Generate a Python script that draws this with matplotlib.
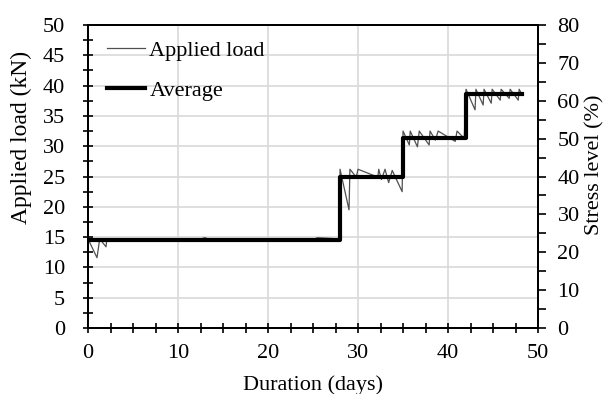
"""
Applied load history with stepwise average and stress level on the right axis.
"""

import matplotlib
matplotlib.use('Agg')
import matplotlib.pyplot as plt
from matplotlib.ticker import MultipleLocator

# applied load record (days, kN)
load_days = [0.0, 1.0, 1.3, 2.0, 2.1, 12.5, 13.0, 13.5, 25.0, 25.5, 28.0,
             28.0, 29.0, 29.1, 29.8, 30.0, 32.2, 32.3, 32.6, 33.0, 33.4,
             33.8, 34.9,
             35.0, 35.7, 35.8, 36.6, 36.8, 37.9, 38.0, 38.6, 38.9, 40.8,
             41.0, 41.8,
             42.0, 43.0, 43.1, 43.9, 44.0, 44.8, 44.9, 45.8, 45.9, 46.8,
             46.9, 47.8, 47.9, 48.2]
load_kn = [14.7, 11.6, 14.7, 13.4, 14.7, 14.7, 14.9, 14.6, 14.6, 14.9, 14.7,
           26.2, 19.5, 26.2, 24.9, 26.2, 24.9, 26.2, 24.5, 26.2, 24.0,
           26.0, 22.5,
           32.5, 30.2, 32.5, 29.9, 32.5, 30.2, 32.5, 31.0, 32.5, 30.8,
           32.5, 31.3,
           39.4, 36.0, 39.4, 36.8, 39.4, 37.1, 39.4, 37.6, 39.4, 37.9,
           39.4, 37.6, 39.4, 38.6]

# average load per stage
stage_days = [0, 28, 35, 42, 48.2]
stage_avg = [14.6, 24.9, 31.3, 38.6, 38.6]

plt.rcParams['font.family'] = ['Liberation Serif', 'DejaVu Serif']

fig = plt.figure(figsize=(6.09, 3.94), dpi=100)
ax = fig.add_axes([0.1445, 0.1675, 0.739, 0.769])

ax.plot(load_days, load_kn, color='#505050', linewidth=0.9,
        label='Applied load')
ax.plot(stage_days, stage_avg, color='black', linewidth=3.0,
        drawstyle='steps-post', label='Average')

ax.set_xlim(0, 50)
ax.set_ylim(0, 50)
ax.xaxis.set_major_locator(MultipleLocator(10))
ax.xaxis.set_minor_locator(MultipleLocator(2.5))
ax.yaxis.set_major_locator(MultipleLocator(5))
ax.yaxis.set_minor_locator(MultipleLocator(2.5))
ax.grid(True, which='major', color='#d9d9d9', linewidth=1.2)
ax.set_axisbelow(True)
ax.tick_params(which='both', direction='inout', length=7, width=1.2,
               labelsize=16, colors='black')
ax.tick_params(axis='x', pad=8)
ax.tick_params(axis='y', pad=13)

ax.set_xlabel('Duration (days)', fontsize=16, labelpad=9)
ax.set_ylabel('Applied load (kN)', fontsize=17)
ax.yaxis.set_label_coords(-0.125, 0.63)

ax2 = ax.twinx()
ax2.set_ylim(0, 80)
ax2.yaxis.set_major_locator(MultipleLocator(10))
ax2.yaxis.set_minor_locator(MultipleLocator(5))
ax2.tick_params(which='both', direction='out', length=6, width=1.2,
                labelsize=16, pad=8)
ax2.set_ylabel('Stress level (%)', fontsize=16)
ax2.yaxis.set_label_coords(1.105, 0.54)

for a in (ax, ax2):
    for s in a.spines.values():
        s.set_linewidth(1.4)
        s.set_color('black')

ax.legend(loc='upper left', frameon=False, fontsize=16, handlelength=1.7,
          handletextpad=0.2, labelspacing=0.85, borderaxespad=0.3,
          bbox_to_anchor=(0.008, 1.0))

fig.savefig('out.png', dpi=100)
plt.close(fig)
